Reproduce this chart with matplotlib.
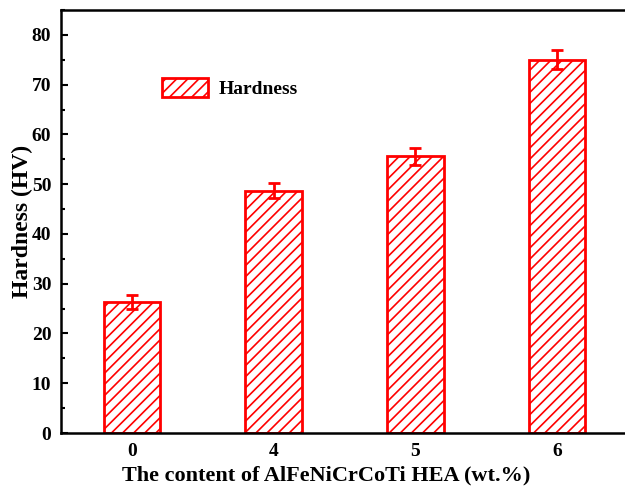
import matplotlib
matplotlib.use("Agg")
import matplotlib.pyplot as plt
from matplotlib.ticker import MultipleLocator

categories = ["0", "4", "5", "6"]
hardness = [26.4, 48.7, 55.6, 75.0]
errors = [1.4, 1.5, 1.7, 1.9]

plt.rcParams['font.family'] = ['Liberation Serif']
plt.rcParams['font.weight'] = 'bold'
plt.rcParams['hatch.color'] = 'red'
plt.rcParams['hatch.linewidth'] = 1.2

fig = plt.figure(figsize=(6.25, 4.9), dpi=100)
ax = fig.add_axes([61/625, 57/490, 567/625, 423/490])

x = list(range(len(categories)))
ax.bar(x, hardness, width=0.4, facecolor='white', edgecolor='red',
       linewidth=2.0, hatch='///', label='Hardness', zorder=2)
ax.errorbar(x, hardness, yerr=errors, fmt='none', ecolor='red',
            elinewidth=2, capsize=4, capthick=2, zorder=3)

ax.set_xlim(-0.5, 3.5)
ax.set_ylim(0, 85)
ax.set_xticks(x)
ax.set_xticklabels(categories)
ax.yaxis.set_major_locator(MultipleLocator(10))
ax.yaxis.set_minor_locator(MultipleLocator(5))
ax.tick_params(axis='y', which='major', direction='in', length=5, width=1.5, labelsize=14, pad=7)
ax.tick_params(axis='y', which='minor', direction='in', length=3, width=1.5)
ax.tick_params(axis='x', which='both', length=0, labelsize=14, pad=7)
for s in ax.spines.values():
    s.set_linewidth(1.8)

ax.set_xlabel('The content of AlFeNiCrCoTi HEA (wt.%)', fontsize=16, fontweight='bold')
ax.set_ylabel('Hardness (HV)', fontsize=17, fontweight='bold')
ax.xaxis.set_label_coords((326 - 61) / 567, -42 / 423, transform=ax.transAxes)
ax.yaxis.set_label_coords(-39 / 567, 0.5, transform=ax.transAxes)
ax.xaxis.label.set_va('center')
ax.yaxis.label.set_va('center')

ax.legend(loc='upper left', bbox_to_anchor=(0.148, 0.88), frameon=False,
          handlelength=2.37, handleheight=1.08, handletextpad=0.5,
          prop={'weight': 'bold', 'size': 14})

fig.savefig('out.png', dpi=100)
